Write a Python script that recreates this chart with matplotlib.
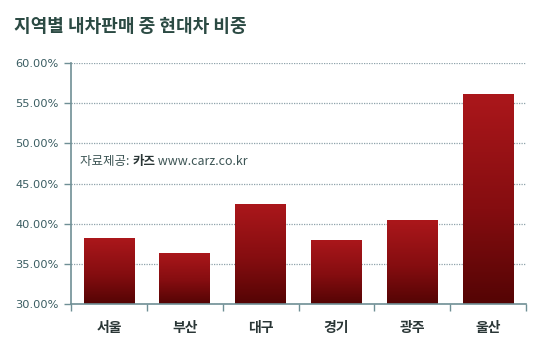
import matplotlib
matplotlib.use("Agg")
import matplotlib.pyplot as plt
import numpy as np
from matplotlib.colors import LinearSegmentedColormap
from matplotlib.offsetbox import TextArea, HPacker, AnchoredOffsetbox

categories = ["서울", "부산", "대구", "경기", "광주", "울산"]
values = [38.2, 36.4, 42.5, 38.0, 40.4, 56.1]
yticks = [30, 35, 40, 45, 50, 55, 60]
ytick_labels = ["30.00%", "35.00%", "40.00%", "45.00%", "50.00%", "55.00%", "60.00%"]
title = "지역별 내차판매 중 현대차 비중"
source_parts = ["자료제공: ", "카즈", " www.carz.co.kr"]

KR = ["Noto Sans CJK KR", "DejaVu Sans"]
plt.rcParams["font.family"] = ["DejaVu Sans", "Noto Sans CJK KR"]

fig = plt.figure(figsize=(5.5, 3.57), dpi=100)
fig.patch.set_facecolor("white")
ax = fig.add_axes([71/550, 1-304/357, 455/550, 241/357])

x = np.arange(len(categories))
bars = ax.bar(x, values, width=0.67, bottom=0, color="#8a0e10", zorder=3, linewidth=0)
ax.set_ylim(30, 60)
ax.set_xlim(-0.5, len(categories) - 0.5)

cmap = LinearSegmentedColormap.from_list("g", [(0, "#540404"), (0.45, "#850d10"), (1, "#ab171b")])
grad = np.linspace(0, 1, 256).reshape(-1, 1)
for b in bars:
    x0 = b.get_x(); w = b.get_width(); top = b.get_height()
    im = ax.imshow(grad, cmap=cmap, aspect="auto", origin="lower",
                   extent=[x0, x0 + w, 30, top], zorder=4)
    im.set_clip_path(b)

ax.set_yticks(yticks)
ax.set_yticklabels(ytick_labels)
ax.grid(axis="y", linestyle=(0, (1, 1)), color="#8fa3aa", linewidth=0.9, zorder=1)
ax.set_axisbelow(True)

ax.set_xticks(x)
ax.set_xticklabels(categories, fontfamily=KR, fontweight="bold", fontsize=10, color="#2a3636")
ax.set_xticks(np.arange(-0.5, len(categories), 1), minor=True)
ax.tick_params(axis="x", which="major", length=0, pad=12)
ax.tick_params(axis="x", which="minor", length=5, width=1, color="#6f8f95", direction="out")
ax.tick_params(axis="y", length=5, width=1, color="#6f8f95", labelsize=8.2, labelcolor="#3a5d62", pad=4)

for s in ["top", "right"]:
    ax.spines[s].set_visible(False)
for s in ["left", "bottom"]:
    ax.spines[s].set_color("#6f8f95")
    ax.spines[s].set_linewidth(1.2)
ax.spines["bottom"].set_zorder(6)

fig.text(14/550, 1 - 26/357, title, fontfamily=KR, fontweight="bold", fontsize=13,
         color="#2b4a43", ha="left", va="center")

areas = [
    TextArea(source_parts[0], textprops=dict(fontfamily=KR, fontsize=9, color="#3d5555")),
    TextArea(source_parts[1], textprops=dict(fontfamily=KR, fontsize=9, color="#2a3636", fontweight="bold")),
    TextArea(source_parts[2], textprops=dict(fontfamily=KR, fontsize=9, color="#3d5555")),
]
pack = HPacker(children=areas, align="baseline", pad=0, sep=0)
ab = AnchoredOffsetbox(loc="center left", child=pack, pad=0, frameon=False,
                       bbox_to_anchor=(80/550, 1 - 162/357), bbox_transform=fig.transFigure,
                       borderpad=0)
ab.set_zorder(7)
ax.add_artist(ab)

fig.savefig("out.png", dpi=100, facecolor="white")
